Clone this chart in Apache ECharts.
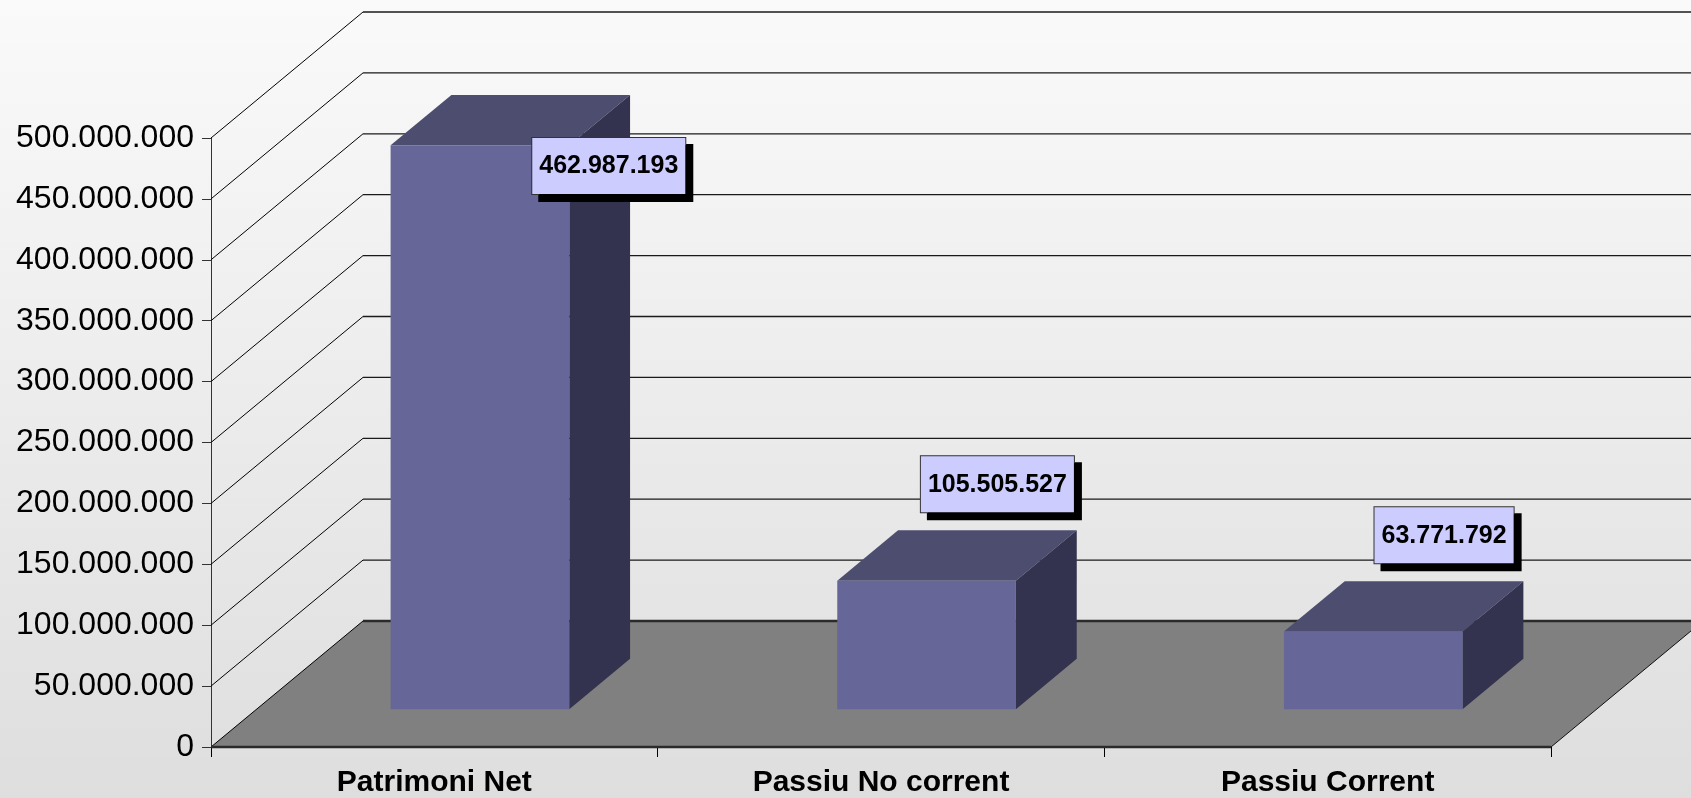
<!DOCTYPE html>
<html>
<head>
<meta charset="utf-8">
<title>Patrimoni</title>
<script src="https://cdn.jsdelivr.net/npm/echarts@6/dist/echarts.min.js"></script>
<style>
  html, body { margin: 0; padding: 0; }
  #chart { width: 1691px; height: 798px; }
</style>
</head>
<body>
<div id="chart"></div>
<script>
// data
const categories = ["Patrimoni Net", "Passiu No corrent", "Passiu Corrent"];
const values = [462987193, 105505527, 63771792];
const yTicks = [0, 50000000, 100000000, 150000000, 200000000, 250000000,
  300000000, 350000000, 400000000, 450000000, 500000000];

// fake 3d depth (pixels) of the floor / walls
const DX = 152;
const DY = -126;
const FONT = '"Liberation Sans", Arial, sans-serif';

function fmt(v) {
  return String(v).replace(/\B(?=(\d{3})+(?!\d))/g, ".");
}

var myChart = echarts.init(document.getElementById("chart"));

// walls, gridlines and floor
function renderWalls(params, api) {
  var cs = params.coordSys;
  var x0 = cs.x, x1 = cs.x + cs.width;
  var y0 = api.coord([0, 0])[1];
  var children = [];
  children.push({
    type: "polygon",
    shape: { points: [[x0, y0], [x1, y0], [x1 + DX, y0 + DY], [x0 + DX, y0 + DY]] },
    style: { fill: "#808080" },
  });
  yTicks.forEach(function (v) {
    var y = api.coord([0, v])[1];
    children.push({
      type: "line",
      shape: { x1: x0, y1: y, x2: x0 + DX, y2: y + DY },
      style: { stroke: "#000", lineWidth: 1 },
    });
    children.push({
      type: "line",
      shape: { x1: x0 + DX, y1: y + DY, x2: x1 + DX, y2: y + DY },
      style: { stroke: v === 0 ? "#2a2a2a" : "#1a1a1a", lineWidth: v === 0 ? 2.5 : 1.3 },
    });
  });
  // front and right edges of the floor
  children.push({
    type: "line",
    shape: { x1: x0, y1: y0, x2: x1, y2: y0 },
    style: { stroke: "#2a2a2a", lineWidth: 2.5 },
  });
  children.push({
    type: "line",
    shape: { x1: x1, y1: y0, x2: x1 + DX, y2: y0 + DY },
    style: { stroke: "#111", lineWidth: 1 },
  });
  return { type: "group", children: children };
}

// 3d looking bars + value boxes
function renderBar(params, api) {
  var cs = params.coordSys;
  var i = api.value(0), v = api.value(1);
  var p = api.coord([i, v]);
  var b = api.coord([i, 0]);
  var bw = api.size([1, 0])[0] * 0.4;
  var ox = DX * 0.3, oy = DY * 0.3, bdx = DX * 0.4, bdy = DY * 0.4;
  var fl = p[0] - bw / 2 + ox, fr = p[0] + bw / 2 + ox;
  var ft = p[1] + oy, fb = b[1] + oy;

  var label = {
    type: "text",
    z2: 10,
    style: {
      text: fmt(v),
      font: "bold 25px " + FONT,
      fill: "#000",
      backgroundColor: "#CCCCFF",
      borderColor: "#333",
      borderWidth: 1,
      padding: [16, 7, 15, 7],
      shadowColor: "#000",
      shadowOffsetX: 7,
      shadowOffsetY: 7,
      shadowBlur: 0,
    },
  };
  var boxH = 57;
  var bottom = ft + bdy - 18;
  if (bottom - boxH < cs.y) {
    label.x = fr - 37;
    label.y = cs.y;
    label.style.align = "left";
    label.style.verticalAlign = "top";
  } else {
    label.x = p[0] + ox + bdx + 10;
    label.y = bottom;
    label.style.align = "center";
    label.style.verticalAlign = "bottom";
  }

  return {
    type: "group",
    children: [
      {
        type: "polygon",
        shape: { points: [[fl, ft], [fr, ft], [fr + bdx, ft + bdy], [fl + bdx, ft + bdy]] },
        style: { fill: "#4D4D70" },
      },
      {
        type: "polygon",
        shape: { points: [[fr, ft], [fr + bdx, ft + bdy], [fr + bdx, fb + bdy], [fr, fb]] },
        style: { fill: "#33334F" },
      },
      {
        type: "rect",
        shape: { x: fl, y: ft, width: fr - fl, height: fb - ft },
        style: { fill: "#666699" },
      },
      label,
    ],
  };
}

myChart.setOption({
  animation: false,
  graphic: [
    {
      type: "rect",
      z: -10,
      silent: true,
      shape: { x: 0, y: 0, width: 1691, height: 798 },
      style: {
        fill: new echarts.graphic.LinearGradient(0, 0, 0, 1, [
          { offset: 0, color: "#FAFAFA" },
          { offset: 1, color: "#DEDEDE" },
        ]),
      },
    },
  ],
  grid: { left: 211, right: 140, top: 138, bottom: 50 },
  xAxis: {
    type: "category",
    data: categories,
    axisLine: { show: false },
    axisTick: { show: true, length: 10, interval: 0, lineStyle: { color: "#000", width: 1 } },
    axisLabel: {
      interval: 0,
      margin: 21,
      color: "#000",
      fontSize: 30,
      fontWeight: "bold",
      fontFamily: FONT,
    },
  },
  yAxis: {
    type: "value",
    min: 0,
    max: 500000000,
    interval: 50000000,
    axisLine: { show: true, lineStyle: { color: "#333", width: 1 } },
    axisTick: { show: true, length: 9, lineStyle: { color: "#333" } },
    splitLine: { show: false },
    axisLabel: {
      margin: 17,
      color: "#000",
      fontSize: 32,
      fontFamily: FONT,
      formatter: function (v) { return fmt(v); },
    },
  },
  series: [
    {
      type: "custom",
      z: 1,
      silent: true,
      renderItem: renderWalls,
      data: [[0, 0]],
    },
    {
      type: "custom",
      z: 3,
      renderItem: renderBar,
      data: values.map(function (v, i) { return [i, v]; }),
    },
  ],
});
</script>
</body>
</html>
